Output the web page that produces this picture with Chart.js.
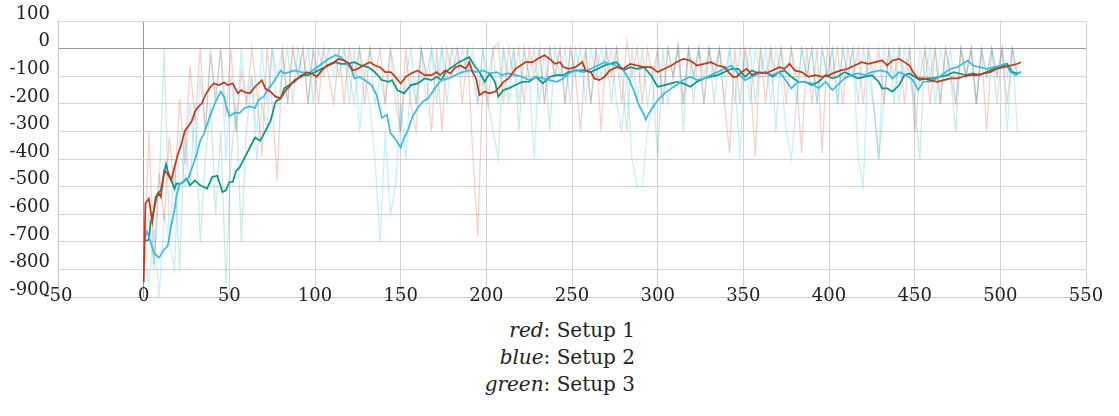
<!DOCTYPE html>
<html>
<head>
<meta charset="utf-8">
<script src="https://cdn.jsdelivr.net/npm/chart.js@4.4.1/dist/chart.umd.min.js"></script>
<style>
  html, body { margin: 0; padding: 0; background: #fff; }
  #wrap { position: relative; width: 1119px; height: 416px; }
  #box { position: absolute; left: 0; top: 0; width: 1119px; height: 316px; }
  #legend {
    position: absolute; top: 317px; right: 484px;
    font-family: "DejaVu Serif", serif; font-size: 20px; line-height: 27px;
    color: #222; text-align: right;
  }
  #legend i { font-style: italic; }
</style>
</head>
<body>
<div id="wrap">
  <div id="box"><canvas id="chart"></canvas></div>
  <div id="legend">
    <div><i>red</i>: Setup 1</div>
    <div><i>blue</i>: Setup 2</div>
    <div><i>green</i>: Setup 3</div>
  </div>
</div>
<script>
// smoothed curves (episode, reward)
const redX = [0,1,3,4,5,7,9,10,12,14,16,18,20,22,24,26,28,30,32,34,36,39,41,44,47,49,52,55,57,59,62,65,69,71,74,77,80,83,85,88,92,95,98,101,104,107,111,114,117,120,122,125,128,132,135,138,141,144,146,150,153,156,160,164,168,171,173,176,179,182,185,188,190,192,194,196,199,202,205,207,210,213,217,220,223,227,230,234,237,240,243,245,248,252,256,258,261,263,266,269,272,276,280,284,288,292,296,300,304,308,311,315,319,323,327,331,335,339,342,344,346,349,352,355,359,363,367,371,374,377,380,384,388,392,396,400,404,407,411,415,419,423,427,431,434,437,441,444,447,449,452,455,459,463,467,471,475,478,482,486,490,494,498,502,506,510,512];
const redY = [-846,-560,-543,-585,-626,-537,-525,-537,-442,-453,-477,-430,-382,-346,-299,-281,-263,-227,-210,-198,-168,-138,-126,-132,-123,-132,-126,-162,-150,-158,-162,-138,-114,-144,-156,-174,-180,-150,-138,-114,-102,-85,-90,-102,-79,-61,-49,-37,-43,-55,-79,-73,-61,-49,-61,-67,-85,-85,-96,-126,-102,-90,-79,-96,-96,-85,-96,-79,-90,-67,-61,-73,-49,-85,-108,-168,-156,-162,-156,-144,-120,-108,-73,-61,-49,-49,-37,-24,-37,-55,-49,-67,-73,-67,-49,-79,-85,-108,-114,-102,-79,-67,-73,-55,-61,-67,-67,-85,-73,-61,-49,-37,-43,-61,-55,-49,-61,-67,-90,-102,-102,-85,-73,-96,-85,-90,-79,-67,-73,-55,-79,-85,-102,-96,-102,-96,-85,-79,-73,-61,-49,-55,-49,-43,-61,-43,-37,-49,-61,-85,-108,-108,-114,-120,-114,-108,-108,-102,-96,-96,-90,-85,-73,-67,-61,-55,-49];

const blueX = [0,2,3,6,9,12,14,16,18,19,21,23,26,29,31,33,35,37,39,42,45,47,48,50,53,56,59,62,65,67,70,73,76,80,82,85,88,92,96,100,104,108,112,115,118,121,123,126,129,133,136,139,142,144,147,150,152,154,157,160,163,166,170,172,174,178,182,186,190,194,198,202,206,209,213,217,221,225,229,233,237,241,245,248,252,257,261,265,269,272,276,280,283,286,289,292,293,295,298,301,304,308,311,315,319,323,327,331,335,339,343,347,351,355,359,363,367,371,374,378,382,386,390,394,398,402,405,409,413,417,421,425,430,434,437,441,445,449,452,455,459,463,467,471,475,478,481,484,488,492,496,500,503,506,509,512];
const blueY = [-703,-662,-680,-740,-757,-727,-715,-644,-584,-537,-489,-483,-471,-418,-382,-334,-311,-275,-239,-192,-156,-174,-204,-245,-233,-233,-215,-209,-215,-186,-174,-144,-120,-79,-90,-85,-79,-85,-90,-73,-55,-37,-24,-30,-49,-73,-108,-102,-114,-132,-168,-251,-239,-305,-329,-358,-323,-299,-245,-215,-192,-180,-144,-126,-114,-108,-96,-85,-79,-85,-79,-90,-85,-96,-90,-96,-102,-114,-102,-108,-114,-120,-108,-90,-79,-85,-73,-61,-49,-55,-61,-79,-108,-150,-204,-239,-257,-233,-204,-180,-162,-144,-132,-114,-102,-114,-108,-96,-85,-73,-61,-90,-114,-102,-90,-85,-96,-85,-108,-144,-120,-120,-126,-144,-120,-150,-132,-108,-96,-90,-96,-85,-79,-85,-108,-85,-96,-114,-150,-120,-120,-108,-90,-73,-67,-55,-43,-61,-67,-73,-67,-61,-55,-85,-96,-85];

const greenX = [0,3,4,6,8,10,13,14,18,19,22,25,27,30,33,37,40,43,46,48,50,52,54,56,59,62,65,68,71,74,77,80,82,85,88,92,96,100,104,108,112,115,119,123,127,131,135,139,143,145,148,152,156,160,164,168,171,174,176,180,184,188,190,193,196,199,202,205,207,210,213,217,221,225,229,233,237,241,245,248,252,257,261,265,269,272,276,280,284,288,292,296,300,304,308,311,315,319,323,327,331,335,339,343,347,351,355,359,363,367,371,374,378,382,386,390,394,398,402,405,409,413,417,421,425,429,431,434,437,441,444,447,450,453,457,461,465,469,473,476,480,484,488,492,496,500,504,507,510,512];
const greenY = [-697,-692,-632,-585,-525,-513,-418,-442,-507,-489,-489,-471,-495,-477,-495,-507,-465,-460,-519,-513,-483,-483,-442,-430,-394,-358,-322,-334,-299,-263,-192,-180,-144,-132,-120,-96,-96,-85,-73,-61,-49,-55,-55,-49,-61,-67,-85,-114,-120,-114,-150,-162,-132,-126,-108,-114,-102,-114,-85,-67,-49,-37,-31,-61,-85,-120,-90,-120,-174,-150,-144,-132,-120,-120,-102,-126,-102,-96,-96,-85,-79,-79,-85,-73,-61,-55,-49,-79,-67,-73,-67,-96,-138,-132,-126,-120,-126,-138,-120,-108,-102,-96,-85,-73,-73,-102,-79,-90,-85,-102,-85,-79,-102,-120,-120,-132,-120,-96,-108,-102,-85,-96,-108,-102,-96,-120,-144,-144,-156,-132,-96,-90,-102,-114,-108,-108,-102,-96,-85,-90,-96,-90,-96,-85,-73,-67,-55,-85,-90,-85];

// raw per-episode rewards, sampled every 3 episodes
const rawX = [0,3,6,9,12,15,18,21,24,27,30,33,36,39,42,45,48,51,54,57,60,63,66,69,72,75,78,81,84,87,90,93,96,99,102,105,108,111,114,117,120,123,126,129,132,135,138,141,144,147,150,153,156,159,162,165,168,171,174,177,180,183,186,189,192,195,198,201,204,207,210,213,216,219,222,225,228,231,234,237,240,243,246,249,252,255,258,261,264,267,270,273,276,279,282,285,288,291,294,297,300,303,306,309,312,315,318,321,324,327,330,333,336,339,342,345,348,351,354,357,360,363,366,369,372,375,378,381,384,387,390,393,396,399,402,405,408,411,414,417,420,423,426,429,432,435,438,441,444,447,450,453,456,459,462,465,468,471,474,477,480,483,486,489,492,495,498,501,504,507,510];

const redRaw = [-850,-300,-780,-450,-620,-320,-520,-180,-420,-60,-260,0,-300,-20,-180,0,-250,0,-300,-80,-200,0,-150,-390,0,-200,-480,0,-200,0,-100,0,-200,0,-200,0,-100,-200,0,-200,0,-100,0,-200,0,-100,0,-200,0,-100,-300,0,-200,-300,0,-100,-300,0,-300,0,-100,0,-200,0,-370,-680,-100,-200,0,20,-200,0,-100,0,-200,0,-100,0,-200,0,-100,0,-200,0,-100,-300,0,-200,0,-300,0,-100,0,-200,25,-100,0,-200,0,-100,0,-200,0,-100,20,-200,0,-100,0,-200,0,-100,0,-200,-380,0,-200,0,-100,-390,0,-200,0,-100,0,-200,0,-100,-380,0,-200,0,-380,0,-100,0,-200,0,-100,0,-200,0,-100,0,-200,0,-100,0,-200,0,-300,-100,0,-200,0,-200,0,-100,-200,0,-100,0,-200,0,-300,0,-100,0,-200,0,-100];

const blueRaw = [-700,-850,-650,-900,-600,-700,-800,-300,-500,-200,-400,-100,-300,0,-200,0,-400,-100,-300,0,-200,-100,-300,0,-200,0,-100,0,-200,0,-100,0,-200,0,-100,0,0,-100,0,0,-200,0,-300,-100,-200,-400,-700,-300,-600,-500,-200,-400,-100,-200,0,-200,0,-100,0,-200,0,-100,0,-100,0,-200,0,-100,0,-200,0,-100,0,-200,0,-100,-400,0,-200,0,-100,0,-200,0,-100,0,-200,0,-100,0,-100,0,-200,-300,-100,-400,-500,-500,-300,-200,0,-200,0,-100,0,-200,0,-100,0,-200,0,-100,0,-200,0,-100,-400,0,-200,0,-100,0,-200,0,-100,-300,-400,-200,0,-100,0,-200,0,-100,0,-200,0,-100,0,-400,-500,0,-200,-400,0,-100,0,-200,0,-100,-200,0,-100,0,-200,0,-100,0,-200,0,-100,0,-200,0,-100,0,-100,0,-300,0,-300];

const greenRaw = [-700,-600,-800,-500,0,-700,-400,-800,-300,-500,-200,-700,-400,-200,-600,-300,-850,-400,-200,-700,-300,-100,-400,-200,-300,0,-200,-100,0,-200,0,-100,0,-200,0,-100,0,0,-100,0,-100,-200,0,-100,0,-200,-100,-200,0,-200,-300,-100,0,-200,0,-100,0,-200,0,-100,0,0,-100,0,-100,-200,0,-200,-300,-400,0,-200,0,-300,0,-100,0,-200,0,-300,0,-100,0,-200,0,-100,0,-200,0,-100,0,-200,0,-100,-300,0,-200,0,-200,-100,-400,0,-200,-100,0,-300,0,-200,0,-100,0,-200,0,-100,0,-200,0,-100,0,-200,0,-100,0,-300,0,-100,0,-200,0,-100,0,-200,0,-100,0,-200,0,-100,0,-200,0,-100,-200,-400,-200,0,-200,0,-100,0,-200,-400,0,-100,0,-200,0,-100,-300,0,-100,0,-200,0,-100,0,-200,0,-100,0,-100];

const xTicks = [-50, 0, 50, 100, 150, 200, 250, 300, 350, 400, 450, 500, 550];
const yTicks = [100, 0, -100, -200, -300, -400, -500, -600, -700, -800, -900];

const RED = "#cc3311";
const BLUE = "#33bbee";
const GREEN = "#009988";

function pts(xs, ys) {
  return xs.map((x, i) => ({ x: x, y: ys[i] }));
}

function line(data, color, width, order) {
  return {
    data: data,
    borderColor: color,
    borderWidth: width,
    pointRadius: 0,
    tension: 0,
    fill: false,
    order: order
  };
}

const gridColor = (ctx) => (ctx.tick && ctx.tick.value === 0 ? "#9a9a9a" : "#d4d4d4");
const tickFont = { family: "DejaVu Serif", size: 18 };

// x tick labels sit across the axis line, which the built-in labels can't do (they get clipped)
const xLabels = {
  id: "xLabels",
  afterDraw(chart) {
    const ctx = chart.ctx;
    const xs = chart.scales.x;
    ctx.save();
    ctx.font = "18px 'DejaVu Serif'";
    ctx.fillStyle = "#222";
    ctx.textAlign = "center";
    ctx.textBaseline = "alphabetic";
    xs.ticks.forEach((t) => {
      ctx.fillText(String(t.value), xs.getPixelForValue(t.value), chart.chartArea.bottom + 4);
    });
    ctx.restore();
  }
};

new Chart(document.getElementById("chart"), {
  type: "line",
  data: {
    datasets: [
      line(pts(rawX, redRaw), "rgba(204,51,17,0.22)", 1.3, 5),
      line(pts(rawX, blueRaw), "rgba(51,187,238,0.25)", 1.3, 6),
      line(pts(rawX, greenRaw), "rgba(0,153,136,0.2)", 1.3, 4),
      line(pts(greenX, greenY), GREEN, 1.7, 2),
      line(pts(blueX, blueY), BLUE, 1.7, 1),
      line(pts(redX, redY), RED, 1.7, 0)
    ]
  },
  plugins: [xLabels],
  options: {
    responsive: true,
    maintainAspectRatio: false,
    animation: false,
    layout: { padding: { top: 21, right: 33, left: 0, bottom: 0 } },
    plugins: {
      legend: { display: false },
      tooltip: { enabled: false }
    },
    scales: {
      x: {
        type: "linear",
        min: -50,
        max: 550,
        afterBuildTicks: (scale) => { scale.ticks = xTicks.map(v => ({ value: v })); },
        afterFit: (scale) => { scale.height = 15; },
        grid: { color: gridColor, drawTicks: false, lineWidth: 1 },
        border: { color: "#c8c8c8" },
        ticks: { display: false }
      },
      y: {
        type: "linear",
        min: -900,
        max: 100,
        afterBuildTicks: (scale) => { scale.ticks = yTicks.map(v => ({ value: v })); },
        afterFit: (scale) => { scale.width = 58; },
        grid: { color: gridColor, drawTicks: false, lineWidth: 1 },
        border: { color: "#c8c8c8" },
        ticks: { font: tickFont, color: "#222", padding: 8, labelOffset: -7 }
      }
    }
  }
});
</script>
</body>
</html>
